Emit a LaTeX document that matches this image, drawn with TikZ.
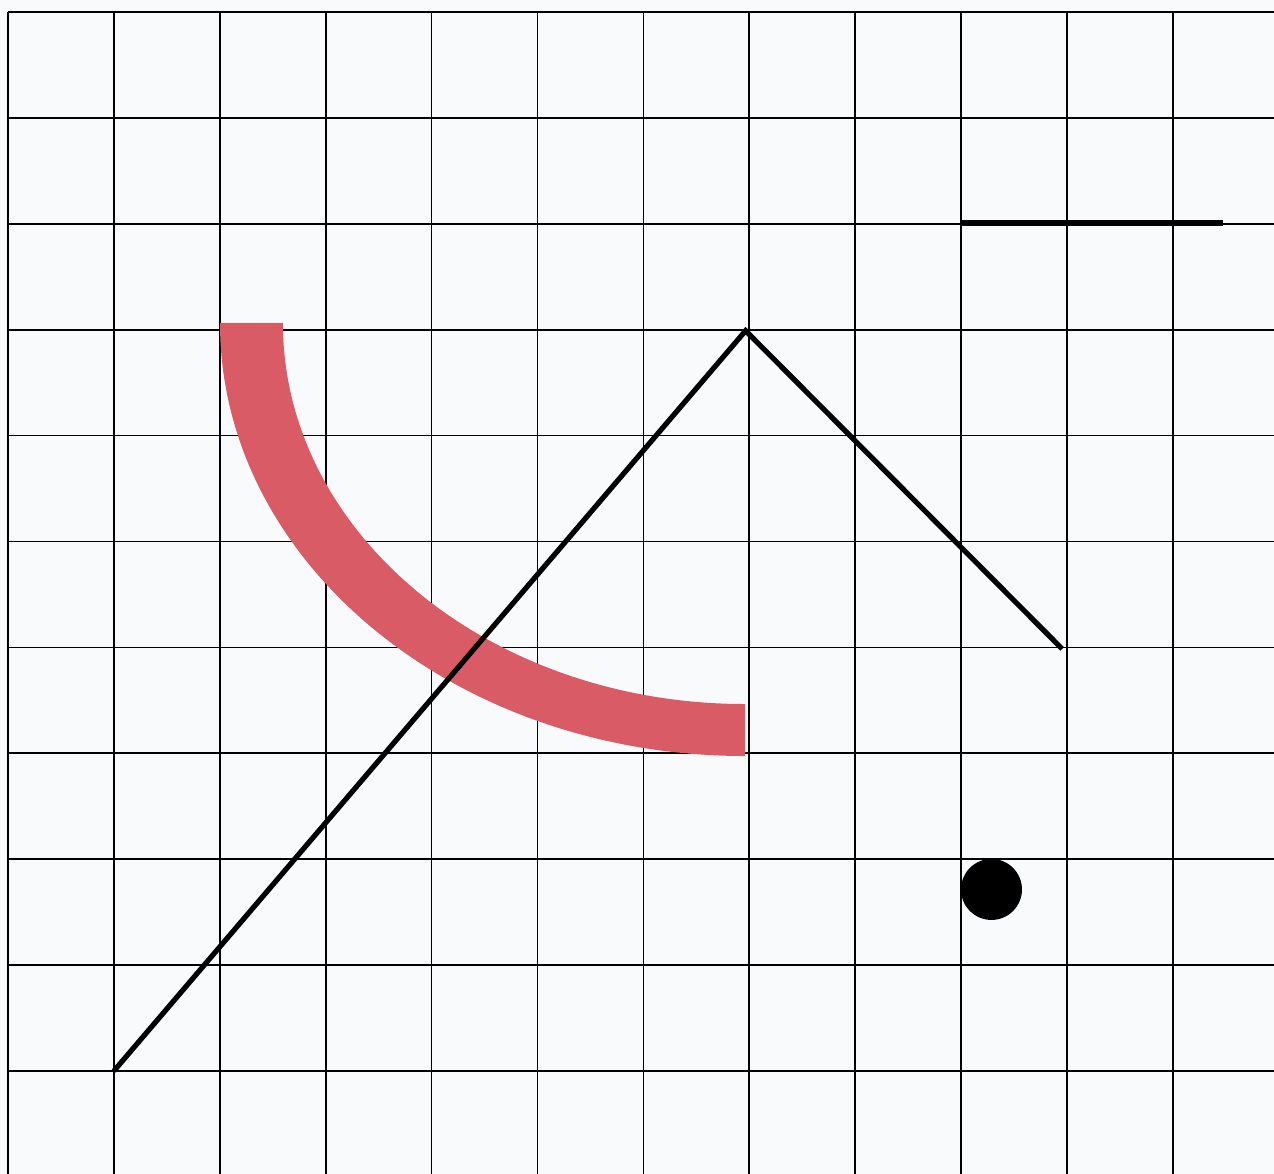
\documentclass[tikz,border=0pt]{standalone}
\usepackage{tikz}
\usetikzlibrary{calc}
\definecolor{paper}{HTML}{F8FAFC}
\definecolor{bandred}{HTML}{D95B66}
\tikzset{
  gridline/.style={draw=black, line width=0.45pt},
  pen/.style={draw=black, line width=1.4pt, line join=miter},
  band/.style={fill=bandred, draw=none},
  blob/.style={fill=black, draw=none},
}

\begin{document}
\begin{tikzpicture}
        \fill[paper] (-0.0755,-0.9726) rectangle (11.955,10.113);
        \useasboundingbox (-0.0755,-0.9726) rectangle (11.955,10.113);
        \draw[gridline] (0,-0.9726) grid[step=1] (11.955,10);
        % arc band
        \coordinate (arcc) at (6.959,7.063);
        \fill[band] ($(arcc)+(-4.957,0)$)
          arc[start angle=180, end angle=270, x radius=4.957, y radius=4.089]
          -- ($(arcc)+(0,-3.598)$)
          arc[start angle=270, end angle=180, x radius=4.363, y radius=3.598]
          -- cycle;
        % lines
        \coordinate (foot) at (1,0);
        \coordinate (peak) at (6.965,6.99);
        \coordinate (tail) at (9.955,3.985);
        \draw[pen] (foot) -- (peak) -- (tail);
        \coordinate (barl) at (9,8.008);
        \coordinate (barr) at (11.473,8.008);
        \draw[pen, line width=1.5pt] (barl) -- (barr);
        \fill[blob] (9.287,1.714) circle[radius=0.288];
      \end{tikzpicture}
\end{document}
